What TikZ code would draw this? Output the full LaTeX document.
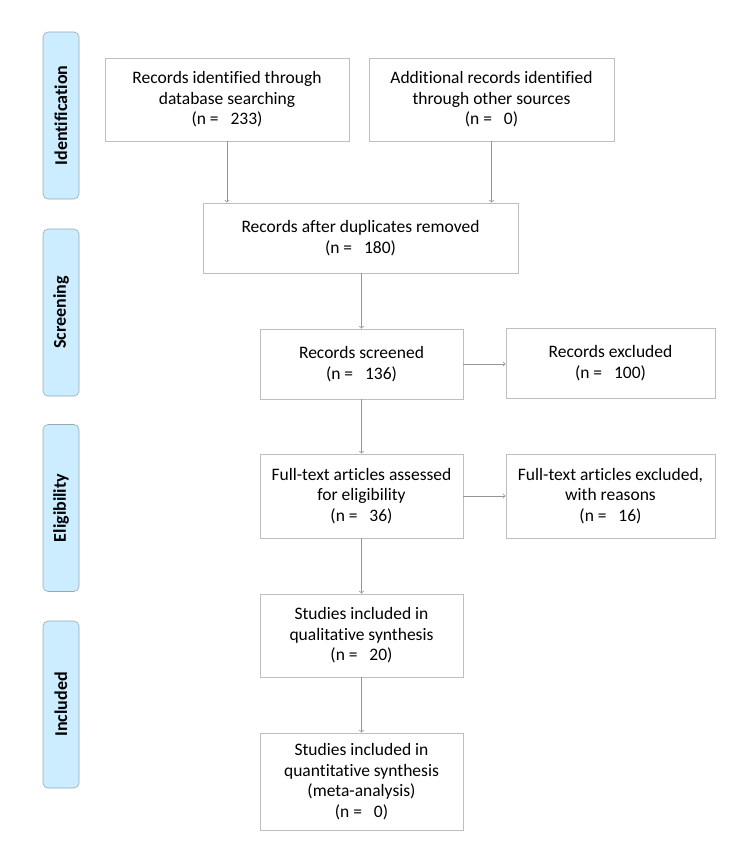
\documentclass[tikz,border=0pt]{standalone}
\usepackage{fontspec}
\setmainfont[Ligatures={NoCommon}]{Carlito}
\usepackage{tikz}
\usetikzlibrary{arrows,positioning,calc}
\definecolor{boxline}{RGB}{190,190,190}
\definecolor{linkline}{RGB}{150,150,150}
\definecolor{stagefill}{RGB}{204,236,255}
\definecolor{stageline}{RGB}{150,170,180}
\newcommand{\nn}[1]{(n =\ \ \ #1)}
\begin{document}
\begin{tikzpicture}
[ x=1pt, y=-1pt,
  box/.style={ draw=boxline, line width=0.9pt, fill=white, align=center, inner sep=2pt,
    font=\fontsize{17.5}{20.5}\selectfont
    },
  stage/.style={ draw=stageline, line width=0.6pt, fill=stagefill, rounded corners=5pt,
    minimum width=167pt, minimum height=36pt, rotate=90,
    font=\fontsize{18}{21}\selectfont\bfseries
    },
  link/.style={ draw=linkline, line width=0.8pt, -> }
]
\useasboundingbox (0,0) rectangle (753,863);
%\draw[help lines,step=50] (0,0) grid (753,863);

  \node[stage] (id)   at (61,115.5) {Identification};
  \node[stage] (scr)  at (61,312.5) {Screening};
  \node[stage] (elig) at (61,508)   {Eligibility};
  \node[stage] (inc)  at (61,704.5) {Included};

  \node[box, minimum width=244, minimum height=83] (dbrec) at (227,99.5)
    {Records identified through\\ database searching\\ \nn{233}};
  \node[box, minimum width=245, minimum height=83] (otherrec) at (491.5,99.5)
    {Additional records identified\\ through other sources\\ \nn{0}};
  \node[box, minimum width=315, minimum height=70] (dedup) at (360.5,238)
    {Records after duplicates removed\\ \nn{180}};
  \node[box, minimum width=203, minimum height=70] (screened) at (361.5,364)
    {Records screened\\ \nn{136}};
  \node[box, minimum width=209, minimum height=70] (excl) at (610.5,363)
    {Records excluded\\ \nn{100}};
  \node[box, minimum width=203, minimum height=84] (fulltext) at (361.5,496)
    {Full-text articles assessed\\ for eligibility\\ \nn{36}};
  \node[box, minimum width=209, minimum height=84] (ftexcl) at (610.5,496)
    {Full-text articles excluded,\\ with reasons\\ \nn{16}};
  \node[box, minimum width=203, minimum height=83] (qual) at (361.5,635.5)
    {Studies included in\\ qualitative synthesis\\ \nn{20}};
  \node[box, minimum width=203, minimum height=97] (quant) at (361.5,781.5)
    {Studies included in\\ quantitative synthesis\\ (meta-analysis)\\ \nn{0}};

  \draw[link] (dbrec.south) -- (dbrec.south |- dedup.north);
  \draw[link] (otherrec.south) -- (otherrec.south |- dedup.north);
  \draw[link] (dedup.south -| screened.north) -- (screened.north);
  \draw[link] (screened.east) -- (screened.east -| excl.west);
  \draw[link] (screened.south) -- (fulltext.north);
  \draw[link] (fulltext.east) -- (ftexcl.west);
  \draw[link] (fulltext.south) -- (qual.north);
  \draw[link] (qual.south) -- (quant.north);
\end{tikzpicture}
\end{document}
